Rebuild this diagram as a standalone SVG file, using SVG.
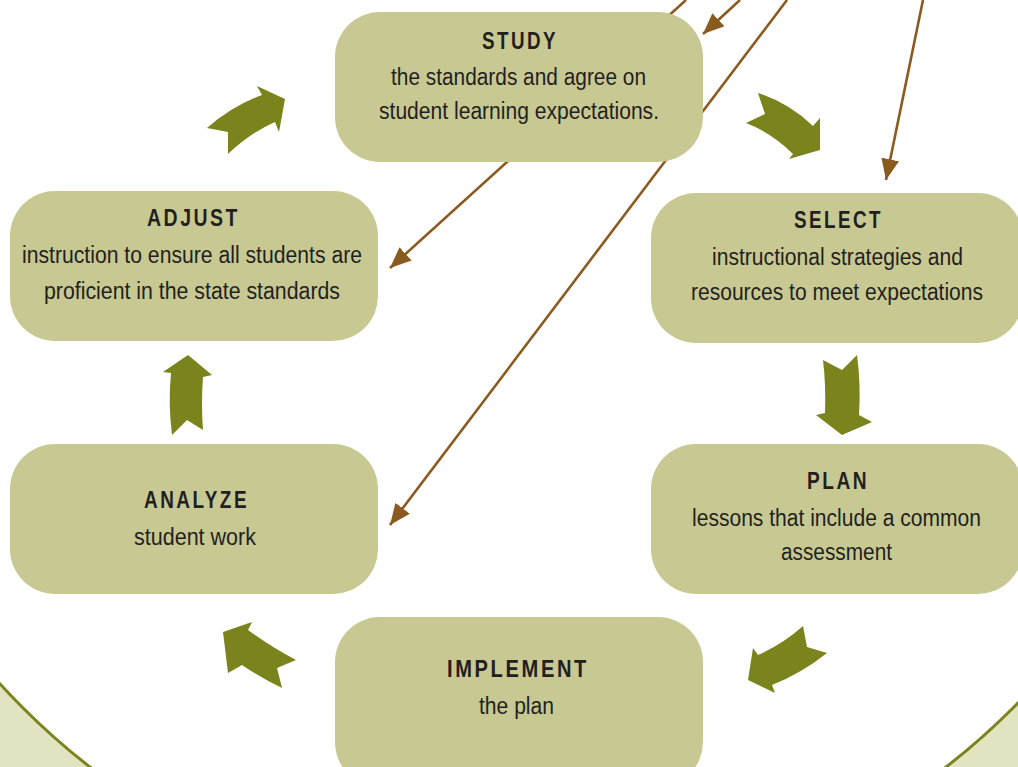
<svg xmlns="http://www.w3.org/2000/svg" width="1018" height="767" viewBox="0 0 1018 767">
  <style>
    .box { fill: #c8c992; }
    .title { font-family: "Liberation Sans", Arial, sans-serif; font-weight: bold; font-size: 23px; letter-spacing: 3px; fill: #231f20; text-anchor: middle; }
    .body { font-family: "Liberation Sans", Arial, sans-serif; font-size: 23px; fill: #231f20; text-anchor: middle; }
    .link { stroke: #8b5a1f; stroke-width: 2.6; fill: none; marker-end: url(#head); }
    .cycle { fill: #7b831c; }
  </style>
  <defs>
    <marker id="head" viewBox="0 0 21 18" refX="21" refY="9" markerWidth="21" markerHeight="18" markerUnits="userSpaceOnUse" orient="auto">
      <path d="M0,0 L21,9 L0,18 Z" fill="#8b5a1f"/>
    </marker>
  </defs>

  <g id="background">
    <rect x="0" y="0" width="1018" height="767" fill="#e1e3c1"/>
    <circle cx="518" cy="213" r="700" fill="#ffffff" stroke="#7b831c" stroke-width="3"/>
  </g>

  <g id="connectors">
    <line class="link" x1="686" y1="0" x2="390" y2="268"/>
    <line class="link" x1="740" y1="0" x2="703" y2="34"/>
    <line class="link" x1="787" y1="0" x2="390" y2="525"/>
    <line class="link" x1="923" y1="0" x2="886" y2="180"/>
  </g>

  <g id="cycle-arrows">
    <path class="cycle" d="M207,128 Q232,106 262,95 L257,86 L285,99 L279,132 L275,122 Q250,133 228,154 L228,132 Z"/>
    <path class="cycle" d="M758,93 L765,114 L746,123 Q772,133 793,154 L789,159 L820,150 L820,118 L813,126 Q789,103 758,93 Z"/>
    <path class="cycle" d="M823,360 L842,370 L857,355 Q861,385 859,415 L872,422 L842,435 L816,415 L825,413 Q826,385 823,360 Z"/>
    <path class="cycle" d="M803,626 L807,647 L827,653 Q802,673 772,685 L775,693 L748,680 L753,648 L758,655 Q783,644 803,626 Z"/>
    <path class="cycle" d="M223,632 L252,622 L248,630 Q271,647 296,660 L277,668 L282,688 Q261,678 242,665 L228,673 Z"/>
    <path class="cycle" d="M188,355 L212,375 L203,377 Q201,403 203,430 L187,420 L172,435 Q168,403 171,373 L163,372 Z"/>
  </g>

  <g id="node-study">
    <rect class="box" x="335" y="12" width="368" height="150" rx="45" ry="45"/>
    <text class="title" x="520" y="49" textLength="76" lengthAdjust="spacingAndGlyphs">STUDY</text>
    <text class="body" x="518.5" y="85" textLength="255" lengthAdjust="spacingAndGlyphs">the standards and agree on</text>
    <text class="body" x="519" y="119" textLength="280" lengthAdjust="spacingAndGlyphs">student learning expectations.</text>
  </g>

  <g id="node-select">
    <rect class="box" x="651" y="193" width="372" height="150" rx="45" ry="45"/>
    <text class="title" x="838.5" y="228" textLength="89" lengthAdjust="spacingAndGlyphs">SELECT</text>
    <text class="body" x="837.5" y="265" textLength="251" lengthAdjust="spacingAndGlyphs">instructional strategies and</text>
    <text class="body" x="837" y="300" textLength="292" lengthAdjust="spacingAndGlyphs">resources to meet expectations</text>
  </g>

  <g id="node-plan">
    <rect class="box" x="651" y="444" width="372" height="150" rx="45" ry="45"/>
    <text class="title" x="838" y="489" textLength="62" lengthAdjust="spacingAndGlyphs">PLAN</text>
    <text class="body" x="836.5" y="526" textLength="289" lengthAdjust="spacingAndGlyphs">lessons that include a common</text>
    <text class="body" x="836.5" y="560" textLength="111" lengthAdjust="spacingAndGlyphs">assessment</text>
  </g>

  <g id="node-implement">
    <rect class="box" x="335" y="617" width="368" height="170" rx="45" ry="45"/>
    <text class="title" x="518" y="677" textLength="142" lengthAdjust="spacingAndGlyphs">IMPLEMENT</text>
    <text class="body" x="516.5" y="714" textLength="75" lengthAdjust="spacingAndGlyphs">the plan</text>
  </g>

  <g id="node-analyze">
    <rect class="box" x="10" y="444" width="368" height="150" rx="45" ry="45"/>
    <text class="title" x="196.5" y="508" textLength="105" lengthAdjust="spacingAndGlyphs">ANALYZE</text>
    <text class="body" x="195" y="545" textLength="122" lengthAdjust="spacingAndGlyphs">student work</text>
  </g>

  <g id="node-adjust">
    <rect class="box" x="10" y="191" width="368" height="150" rx="45" ry="45"/>
    <text class="title" x="193.5" y="226" textLength="93" lengthAdjust="spacingAndGlyphs">ADJUST</text>
    <text class="body" x="192" y="263" textLength="340" lengthAdjust="spacingAndGlyphs">instruction to ensure all students are</text>
    <text class="body" x="192" y="299" textLength="296" lengthAdjust="spacingAndGlyphs">proficient in the state standards</text>
  </g>
</svg>
